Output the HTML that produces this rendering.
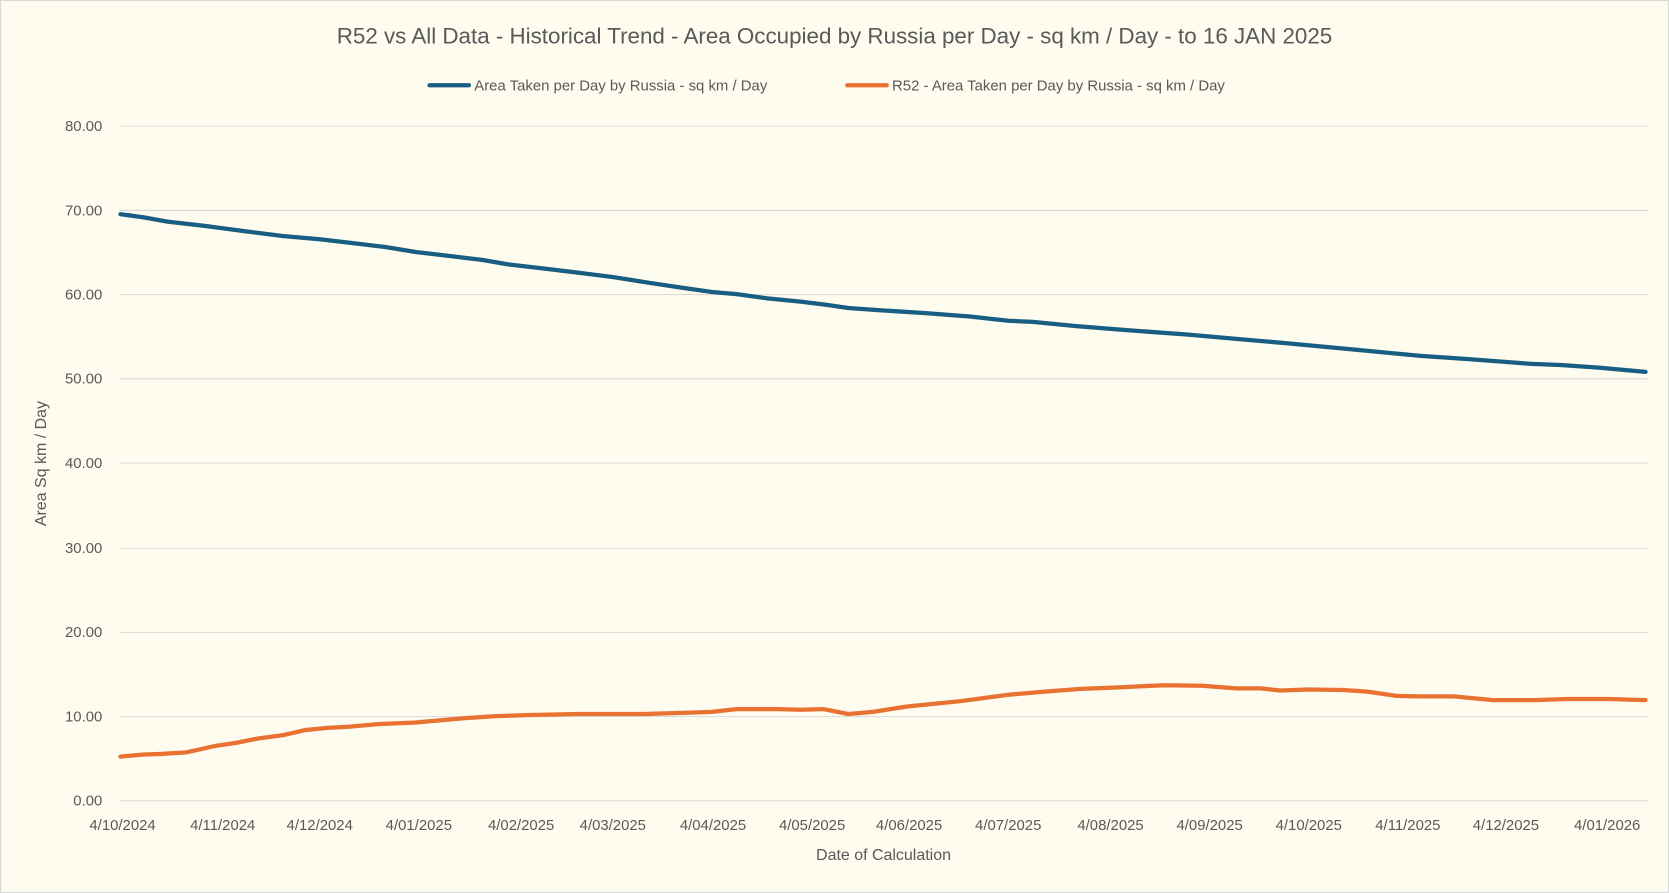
<!DOCTYPE html>
<html><head><meta charset="utf-8"><style>
html,body{margin:0;padding:0;background:#fefbef;overflow:hidden;}
svg{display:block;font-family:"Liberation Sans",sans-serif;}
</style></head><body>
<svg width="1669" height="893" viewBox="0 0 1566 838" preserveAspectRatio="none" xmlns="http://www.w3.org/2000/svg">
<rect x="0.5" y="0.5" width="1565" height="837" fill="#fefbef" stroke="#d9d9d9"/>
<text x="783" y="41" text-anchor="middle" font-size="21" fill="#595959">R52 vs All Data - Historical Trend - Area Occupied by Russia per Day - sq km / Day - to 16 JAN 2025</text>
<line x1="403" y1="80" x2="440" y2="80" stroke="#175e82" stroke-width="4" stroke-linecap="round"/>
<text x="445" y="85" font-size="14" fill="#595959">Area Taken per Day by Russia - sq km / Day</text>
<line x1="795" y1="80" x2="832" y2="80" stroke="#e97132" stroke-width="4" stroke-linecap="round"/>
<text x="837" y="85" font-size="14" fill="#595959">R52 - Area Taken per Day by Russia - sq km / Day</text>
<g stroke="#d9d9d9" stroke-width="1">
<line x1="112" y1="118.5" x2="1546" y2="118.5"/>
<line x1="112" y1="197.5" x2="1546" y2="197.5"/>
<line x1="112" y1="276.5" x2="1546" y2="276.5"/>
<line x1="112" y1="355.5" x2="1546" y2="355.5"/>
<line x1="112" y1="434.5" x2="1546" y2="434.5"/>
<line x1="112" y1="514.5" x2="1546" y2="514.5"/>
<line x1="112" y1="593.5" x2="1546" y2="593.5"/>
<line x1="112" y1="672.5" x2="1546" y2="672.5"/>
<line x1="112" y1="751.5" x2="1546" y2="751.5"/>
</g>
<g font-size="14" fill="#595959" text-anchor="end">
<text x="96" y="123">80.00</text><text x="96" y="202">70.00</text><text x="96" y="281">60.00</text>
<text x="96" y="360">50.00</text><text x="96" y="439">40.00</text><text x="96" y="519">30.00</text>
<text x="96" y="598">20.00</text><text x="96" y="677">10.00</text><text x="96" y="756">0.00</text>
</g>
<text transform="translate(43,435) rotate(-90)" text-anchor="middle" font-size="15" fill="#595959">Area Sq km / Day</text>
<g font-size="14" fill="#595959" text-anchor="middle">
<text x="115" y="779">4/10/2024</text><text x="209" y="779">4/11/2024</text><text x="300" y="779">4/12/2024</text>
<text x="393" y="779">4/01/2025</text><text x="489" y="779">4/02/2025</text><text x="575" y="779">4/03/2025</text>
<text x="669" y="779">4/04/2025</text><text x="762" y="779">4/05/2025</text><text x="853" y="779">4/06/2025</text>
<text x="946" y="779">4/07/2025</text><text x="1042" y="779">4/08/2025</text><text x="1135" y="779">4/09/2025</text>
<text x="1228" y="779">4/10/2025</text><text x="1321" y="779">4/11/2025</text><text x="1413" y="779">4/12/2025</text>
<text x="1508" y="779">4/01/2026</text>
</g>
<text x="829" y="807" text-anchor="middle" font-size="15" fill="#595959">Date of Calculation</text>
<polyline fill="none" stroke="#175e82" stroke-width="4" stroke-linejoin="round" stroke-linecap="round" points="113,201 135,204 157,208 192,212 230,217 265,221.5 300,224.5 330,228 363,232 390,236.5 420,240 453,244 476,248 510,252 543,256 575,260 610,265.5 640,270 668,274 691,276 720,280 751,283 775,286 796,289 824,291 870,294 910,297 946,301 969,302 1010,306 1060,310 1115,314 1160,318 1206,322 1270,328 1333,334 1378,337 1437,341.5 1464,342.5 1500,345 1544,349"/>
<polyline fill="none" stroke="#e97132" stroke-width="4" stroke-linejoin="round" stroke-linecap="round" points="113,710 135,708 152,707.5 175,706 202,700 222,697 242,693 265,690 287,685 307,683 327,682 355,679.5 390,678 435,674 465,672 498,671 543,670 605,670 640,669 668,668 691,665.5 730,665.5 751,666 773,665.5 796,670 819,668 851,663 901,658 946,652 980,649 1014,646.5 1050,645 1092,643 1128,643.5 1160,646 1183,646 1201,648 1228,647 1260,647.5 1283,649 1310,653 1330,653.5 1364,653.5 1401,657 1440,657 1470,656 1510,656 1544,657"/>
</svg>
</body></html>
